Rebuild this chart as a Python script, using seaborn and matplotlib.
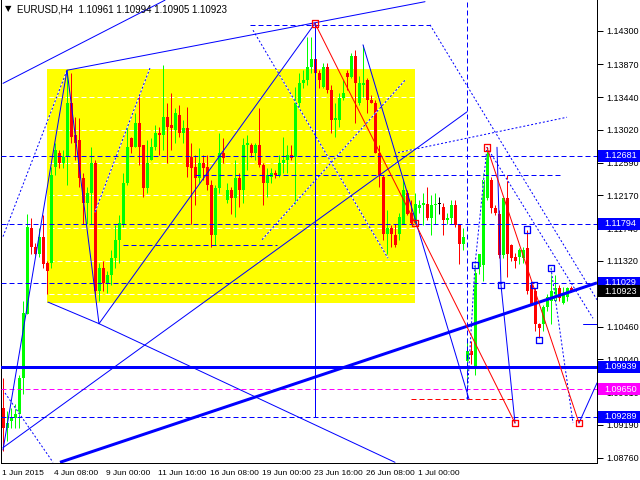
import numpy as np
import pandas as pd
import matplotlib
matplotlib.use("Agg")
import matplotlib.pyplot as plt
import matplotlib.transforms as mtrans
from matplotlib.patches import Rectangle
import seaborn as sns

# ---------------------------------------------------------------------------
# Data: EURUSD H4 candles, one value per bar
# ---------------------------------------------------------------------------

TITLE = "EURUSD,H4  1.10961 1.10994 1.10905 1.10923"

OPEN = [1.0941, 1.0915, 1.0924, 1.0927, 1.0933, 1.0980, 1.1063, 1.1174, 1.1149, 1.1141,
        1.1162, 1.1129, 1.1129, 1.1253, 1.1272, 1.1259, 1.1266, 1.1337, 1.1295, 1.1288,
        1.1239, 1.1207, 1.1219, 1.1259, 1.1093, 1.1122, 1.1103, 1.1113, 1.1135, 1.1158,
        1.1180, 1.1232, 1.1291, 1.1279, 1.1310, 1.1282, 1.1226, 1.1262, 1.1279, 1.1298,
        1.1295, 1.1318, 1.1308, 1.1301, 1.1321, 1.1298, 1.1304, 1.1266, 1.1253, 1.1239,
        1.1258, 1.1253, 1.1230, 1.1165, 1.1226, 1.1272, 1.1210, 1.1223, 1.1213, 1.1239,
        1.1223, 1.1282, 1.1282, 1.1272, 1.1282, 1.1256, 1.1232, 1.1240, 1.1246, 1.1243,
        1.1258, 1.1262, 1.1269, 1.1266, 1.1337, 1.1362, 1.1366, 1.1383, 1.1393, 1.1375,
        1.1357, 1.1383, 1.1353, 1.1314, 1.1314, 1.1343, 1.1376, 1.1370, 1.1398, 1.1336,
        1.1360, 1.1366, 1.1340, 1.1337, 1.1272, 1.1240, 1.1167, 1.1174, 1.1165, 1.1167,
        1.1180, 1.1219, 1.1194, 1.1181, 1.1200, 1.1204, 1.1206, 1.1187, 1.1204, 1.1206,
        1.1201, 1.1184, 1.1187, 1.1204, 1.1178, 1.1154, 1.1002, 1.1015, 1.0993, 1.1123,
        1.1126, 1.1213, 1.1236, 1.1200, 1.1193, 1.1139, 1.1213, 1.1152, 1.1136, 1.1136,
        1.1135, 1.1148, 1.1100, 1.1093, 1.1050, 1.1050, 1.1071, 1.1080, 1.1080, 1.1096,
        1.1077, 1.1084, 1.10961]

HIGH = [1.0979, 1.0937, 1.0941, 1.0946, 1.0983, 1.1080, 1.1193, 1.1187, 1.1155, 1.1174,
        1.1191, 1.1132, 1.1253, 1.1285, 1.1275, 1.1275, 1.1379, 1.1375, 1.1318, 1.1317,
        1.1245, 1.1227, 1.1279, 1.1262, 1.1129, 1.1132, 1.1119, 1.1145, 1.1178, 1.1191,
        1.1245, 1.1308, 1.1292, 1.1323, 1.1347, 1.1282, 1.1288, 1.1291, 1.1308, 1.1305,
        1.1386, 1.1336, 1.1350, 1.1330, 1.1334, 1.1314, 1.1331, 1.1284, 1.1269, 1.1278,
        1.1269, 1.1269, 1.1236, 1.1230, 1.1297, 1.1291, 1.1232, 1.1227, 1.1262, 1.1245,
        1.1291, 1.1295, 1.1284, 1.1284, 1.1330, 1.1258, 1.1252, 1.1252, 1.1249, 1.1269,
        1.1292, 1.1282, 1.1282, 1.1357, 1.1375, 1.1379, 1.1422, 1.1422, 1.1440, 1.1379,
        1.1388, 1.1388, 1.1360, 1.1336, 1.1349, 1.1366, 1.1379, 1.1402, 1.1405, 1.1372,
        1.1412, 1.1369, 1.1347, 1.1340, 1.1282, 1.1243, 1.1197, 1.1178, 1.1180, 1.1194,
        1.1236, 1.1223, 1.1210, 1.1219, 1.1210, 1.1219, 1.1227, 1.1217, 1.1219, 1.1214,
        1.1207, 1.1194, 1.1210, 1.1210, 1.1180, 1.1174, 1.1032, 1.1028, 1.1128, 1.1141,
        1.1246, 1.1279, 1.1240, 1.1204, 1.1197, 1.1213, 1.1243, 1.1154, 1.1142, 1.1148,
        1.1149, 1.1171, 1.1102, 1.1096, 1.1051, 1.1074, 1.1089, 1.1123, 1.1113, 1.1100,
        1.1097, 1.1097, 1.10994]

LOW = [1.0885, 1.0898, 1.0914, 1.0914, 1.0915, 1.0959, 1.1063, 1.1141, 1.1139, 1.1136,
       1.1122, 1.1089, 1.1122, 1.1243, 1.1252, 1.1252, 1.1230, 1.1285, 1.1262, 1.1227,
       1.1180, 1.1180, 1.1180, 1.1089, 1.1080, 1.1093, 1.1090, 1.1100, 1.1122, 1.1129,
       1.1175, 1.1230, 1.1271, 1.1279, 1.1256, 1.1214, 1.1219, 1.1262, 1.1275, 1.1269,
       1.1275, 1.1258, 1.1275, 1.1284, 1.1292, 1.1284, 1.1240, 1.1180, 1.1204, 1.1232,
       1.1236, 1.1223, 1.1149, 1.1152, 1.1219, 1.1258, 1.1207, 1.1193, 1.1188, 1.1201,
       1.1207, 1.1249, 1.1266, 1.1262, 1.1253, 1.1204, 1.1214, 1.1232, 1.1239, 1.1240,
       1.1245, 1.1246, 1.1262, 1.1206, 1.1331, 1.1356, 1.1360, 1.1376, 1.1340, 1.1356,
       1.1356, 1.1350, 1.1298, 1.1292, 1.1305, 1.1340, 1.1353, 1.1369, 1.1311, 1.1334,
       1.1344, 1.1323, 1.1336, 1.1271, 1.1227, 1.1158, 1.1141, 1.1149, 1.1149, 1.1158,
       1.1180, 1.1191, 1.1180, 1.1180, 1.1194, 1.1178, 1.1184, 1.1165, 1.1180, 1.1193,
       1.1165, 1.1180, 1.1180, 1.1175, 1.1128, 1.1145, 1.0953, 1.0998, 1.0983, 1.1115,
       1.1106, 1.1210, 1.1194, 1.1191, 1.1135, 1.1135, 1.1110, 1.1132, 1.1122, 1.1128,
       1.1129, 1.1089, 1.1074, 1.1041, 1.1031, 1.1041, 1.1067, 1.1050, 1.1077, 1.1080,
       1.1076, 1.1080, 1.10905]

CLOSE = [1.0915, 1.0921, 1.0928, 1.0933, 1.0979, 1.1064, 1.1175, 1.1149, 1.1141, 1.1162,
         1.1128, 1.1119, 1.1243, 1.1275, 1.1259, 1.1266, 1.1337, 1.1292, 1.1285, 1.1239,
         1.1207, 1.1219, 1.1259, 1.1093, 1.1122, 1.1103, 1.1113, 1.1135, 1.1158, 1.1181,
         1.1232, 1.1279, 1.1279, 1.1310, 1.1279, 1.1226, 1.1258, 1.1279, 1.1298, 1.1295,
         1.1318, 1.1305, 1.1304, 1.1324, 1.1298, 1.1304, 1.1253, 1.1252, 1.1239, 1.1258,
         1.1252, 1.1230, 1.1165, 1.1226, 1.1272, 1.1265, 1.1223, 1.1213, 1.1239, 1.1223,
         1.1282, 1.1284, 1.1272, 1.1282, 1.1256, 1.1232, 1.1243, 1.1246, 1.1243, 1.1258,
         1.1262, 1.1269, 1.1265, 1.1337, 1.1362, 1.1366, 1.1383, 1.1393, 1.1375, 1.1366,
         1.1383, 1.1353, 1.1314, 1.1317, 1.1343, 1.1349, 1.1370, 1.1398, 1.1362, 1.1362,
         1.1363, 1.1340, 1.1337, 1.1272, 1.1243, 1.1167, 1.1174, 1.1167, 1.1152, 1.1188,
         1.1223, 1.1193, 1.1181, 1.1206, 1.1204, 1.1207, 1.1187, 1.1204, 1.1206, 1.1206,
         1.1184, 1.1187, 1.1204, 1.1178, 1.1154, 1.1162, 1.1015, 1.1009, 1.1116, 1.1141,
         1.1236, 1.1271, 1.1200, 1.1194, 1.1139, 1.1213, 1.1141, 1.1135, 1.1132, 1.1145,
         1.1145, 1.1093, 1.1076, 1.1050, 1.1044, 1.1071, 1.1084, 1.1093, 1.1096, 1.1083,
         1.1089, 1.1096, 1.10923]

# Price axis ticks and time axis labels (label every 13 bars)
Y_TICKS = [1.14300, 1.13870, 1.13440, 1.13020, 1.12590, 1.12170, 1.11740,
           1.11320, 1.10890, 1.10460, 1.10040, 1.09610, 1.09190, 1.08760]
X_TICK_BARS = [0, 13, 26, 39, 52, 65, 78, 91, 104]
X_TICK_LABELS = ["1 Jun 2015", "4 Jun 08:00", "9 Jun 00:00", "11 Jun 16:00",
                 "16 Jun 08:00", "19 Jun 00:00", "23 Jun 16:00", "26 Jun 08:00",
                 "1 Jul 00:00"]

# Horizontal analysis levels (full width) and their labels
LEVEL_PRICES = [1.12681, 1.11794, 1.11029, 1.09939, 1.09650, 1.09289]
LEVEL_COLORS = ["#0000FF", "#0000FF", "#0000FF", "#0000FF", "#FF00FF", "#0000FF"]
LEVEL_SOLID = [False, False, False, True, False, False]
LAST_PRICE = 1.10923

# Short horizontal dashed segments: (price, bar_from, bar_to)
BLUE_SEGMENTS = [(1.1243, 48, 140), (1.1152, 30, 68.5), (1.1438, 61.75, 106.75)]
RED_SEGMENTS = [(1.0952, 102, 128)]

# Yellow box: bars and prices
BOX_BARS = (11, 103)
BOX_PRICES = (1.1077, 1.1381)

# Trend lines as (bar, price) anchors
THICK_TREND = [(14.25, 1.0870), (148.5, 1.1103)]
SOLID_LINES = [
    [(0, 1.0886), (16, 1.1379), (24, 1.1050)],
    [(11.25, 1.1078), (24, 1.1050)],
    [(24, 1.1050), (98, 1.0870)],
    [(0, 1.1362), (40.5, 1.1470)],
    [(16, 1.1379), (105.5, 1.1468)],
    [(24, 1.1050), (78, 1.1440)],
    [(78, 1.1440), (78, 1.0929)],
    [(0, 1.0889), (116, 1.1325)],
    [(90, 1.1412), (116.5, 1.0952)],
    [(123.5, 1.1279), (124.5, 1.1100), (128, 1.0921)],
    [(145, 1.1050), (148.5, 1.1050)],
    [(144, 1.0921), (148.5, 1.0973)],
]
DOTTED_LINES = [
    [(0, 1.1163), (16, 1.1379)],
    [(23, 1.1195), (36.75, 1.1382)],
    [(62.5, 1.1431), (96.25, 1.1135)],
    [(64.75, 1.1159), (100.5, 1.1366)],
    [(0.5, 1.0960), (12.5, 1.0870)],
    [(116, 1.0952), (118, 1.1126), (121, 1.1279)],
    [(121, 1.1279), (147.5, 1.1057)],
    [(98.75, 1.1272), (141, 1.1318)],
    [(106.75, 1.1438), (148.5, 1.1081)],
    [(137, 1.1122), (142.5, 1.0921)],
]
DASHED_VERTICAL = [(116, 1.1470, 1.0952)]
RED_LINES = [
    [(78, 1.1440), (103, 1.1181), (128, 1.0921)],
    [(121, 1.1279), (144, 1.0921)],
]
RED_MARKS_BAR = [78, 103, 128, 121, 144]
RED_MARKS_PRICE = [1.1440, 1.1181, 1.0921, 1.1279, 1.0921]
BLUE_MARKS_BAR = [124.5, 131, 132.75, 134, 137, 118]
BLUE_MARKS_PRICE = [1.1100, 1.1172, 1.1100, 1.1029, 1.1122, 1.1126]

# ---------------------------------------------------------------------------
# Style
# ---------------------------------------------------------------------------

sns.set_style("white")
plt.rcParams["font.family"] = ["Liberation Sans", "DejaVu Sans"]
plt.rcParams["lines.scale_dashes"] = False

PX = 0.72                      # one pixel in points at dpi 100
BLUE = "#0000FF"
RED = "#FF0000"
UP = "#00FF00"
Y_LOW, Y_HIGH = 1.08691, 1.14702
DASH = (0, (5 * PX, 3 * PX))
DOT = (0, (2 * PX, 2 * PX))

fig = plt.figure(figsize=(6.4, 4.8), dpi=100)
ax = fig.add_axes([1 / 640, 17 / 480, 596 / 640, 463 / 480])
ax.set_xlim(-0.5, 148.5)
ax.set_ylim(Y_LOW, Y_HIGH)

# yellow box and (white) grid visible over it
ax.add_patch(Rectangle((BOX_BARS[0], BOX_PRICES[0]), BOX_BARS[1] - BOX_BARS[0],
                       BOX_PRICES[1] - BOX_PRICES[0], fc="#FFFF00", ec="none", zorder=0.5))
ax.hlines(Y_TICKS, -0.5, 148.5, colors="white", linestyles=[DASH], lw=PX, zorder=0.8)

# candles
df = pd.DataFrame({"open": OPEN, "high": HIGH, "low": LOW, "close": CLOSE})
df["bar"] = np.arange(len(df))
df["color"] = np.where(df["close"] > df["open"], UP,
                       np.where(df["close"] < df["open"], RED, "#000000"))
body_lo = df[["open", "close"]].min(axis=1)
body_h = np.maximum((df["close"] - df["open"]).abs(), 0.00012)
ax.vlines(df["bar"], df["low"], df["high"], colors=df["color"], lw=PX, zorder=2)
ax.bar(df["bar"], body_h, bottom=body_lo, width=0.75, color=df["color"], lw=0, zorder=2.1)


def polyline(pts, **kw):
    xs = [p[0] for p in pts]
    ys = [p[1] for p in pts]
    ax.plot(xs, ys, **kw)


# horizontal levels
for price, color, solid in zip(LEVEL_PRICES, LEVEL_COLORS, LEVEL_SOLID):
    if solid:
        ax.axhline(price, color=color, lw=3 * PX, zorder=4)
    else:
        ax.axhline(price, color=color, lw=PX, ls=DASH, zorder=4)
for price, b0, b1 in BLUE_SEGMENTS:
    ax.hlines(price, b0, b1, colors=BLUE, lw=PX, linestyles=[DASH], zorder=4)
for price, b0, b1 in RED_SEGMENTS:
    ax.hlines(price, b0, b1, colors=RED, lw=PX, linestyles=[DASH], zorder=4)
for b, p0, p1 in DASHED_VERTICAL:
    ax.vlines(b, p1, p0, colors=BLUE, lw=PX, linestyles=[DASH], zorder=4)

# trend lines
polyline(THICK_TREND, color=BLUE, lw=3 * PX, zorder=4, solid_capstyle="butt")
for pts in SOLID_LINES:
    polyline(pts, color=BLUE, lw=PX, zorder=4)
for pts in DOTTED_LINES:
    polyline(pts, color="white", lw=PX, zorder=3.9)
    polyline(pts, color=BLUE, lw=PX, ls=DOT, zorder=4)
for pts in RED_LINES:
    polyline(pts, color=RED, lw=PX, zorder=4.2)

sns.scatterplot(x=RED_MARKS_BAR, y=RED_MARKS_PRICE, marker="s", s=22,
                facecolor="none", edgecolor=RED, linewidth=PX * 1.3, ax=ax, zorder=5)
sns.scatterplot(x=BLUE_MARKS_BAR, y=BLUE_MARKS_PRICE, marker="s", s=22,
                facecolor="none", edgecolor=BLUE, linewidth=PX * 1.3, ax=ax, zorder=5)

# axes frame and ticks
for side in ["left", "bottom", "right"]:
    ax.spines[side].set_color("black")
    ax.spines[side].set_linewidth(PX)
ax.spines["top"].set_visible(False)

ax.yaxis.tick_right()
ax.set_yticks(Y_TICKS)
ax.set_yticklabels([f"{v:.5f}" for v in Y_TICKS])
ax.tick_params(axis="y", length=4, width=PX, pad=3, labelsize=6.5, colors="black")
ax.set_xticks(X_TICK_BARS)
ax.set_xticklabels(X_TICK_LABELS)
ax.tick_params(axis="x", length=4, width=PX, pad=1, labelsize=6, colors="black")
shift = mtrans.ScaledTranslation(-1 / 100, 0, fig.dpi_scale_trans)
for lab in ax.get_xticklabels():
    lab.set_ha("left")
    lab.set_transform(lab.get_transform() + shift)
ax.set_xlabel("")
ax.set_ylabel("")

# price labels on the right scale
blend = mtrans.blended_transform_factory(ax.transAxes, ax.transData)
box_h = 12 * (Y_HIGH - Y_LOW) / 463
box_w = 43 / 596
labels = list(zip(LEVEL_PRICES, LEVEL_COLORS)) + [(LAST_PRICE, "#000000")]
for price, color in labels:
    ax.add_patch(Rectangle((1.0017, price - box_h / 2), box_w, box_h, transform=blend,
                           fc=color, ec="none", clip_on=False, zorder=10))
    ax.text(1.0017 + 6 / 596, price, f"{price:.5f}", transform=blend, ha="left",
            va="center", fontsize=6.5, color="white", zorder=11, clip_on=False)

fig.text(5 / 640, 1 - 9 / 480, "\u25BC", fontsize=6, va="center", ha="left",
         color="black", family=["DejaVu Sans"])
fig.text(17 / 640, 1 - 9 / 480, TITLE, fontsize=7, va="center", ha="left", color="black")

fig.savefig("out.png", dpi=100)
plt.close(fig)
